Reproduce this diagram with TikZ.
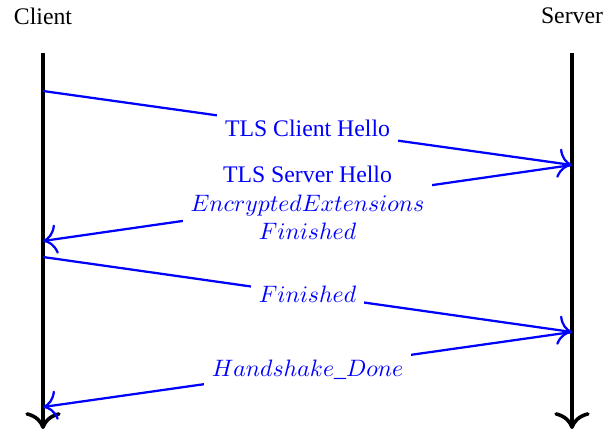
\documentclass[tikz,border=0pt]{standalone}
\usepackage{fontspec}
\setmainfont{Liberation Serif}
\usetikzlibrary{arrows.meta}
\begin{document}
\begin{tikzpicture}[
  x=0.4209pt, y=-0.4209pt,
  lifeline/.style={line width=1.5pt, -{To[scale=1.45]}},
  msg/.style={line width=0.95pt, blue, -{To[scale=1.6]}},
  msglabel/.style={midway, fill=white, text=blue, align=center},
  party/.style={inner sep=0pt}
]
\useasboundingbox (0,0) rectangle (604,431);

% participants
\node[party] (client) at (43,16) {Client};
\node[party] (server) at (572,16) {Server};

% lifelines
\coordinate (ctop) at (43,53);
\coordinate (cbot) at (43,429);
\coordinate (stop) at (572,53);
\coordinate (sbot) at (572,429);
\draw[lifeline] (ctop) -- (cbot);
\draw[lifeline] (stop) -- (sbot);

% message anchor points
\coordinate (c1) at (43,91);
\coordinate (s1) at (572,165);
\coordinate (c2) at (43,241);
\coordinate (c3) at (43,257);
\coordinate (s2) at (572,332);
\coordinate (c4) at (43,407);

% handshake messages
\draw[msg] (c1) -- node[msglabel] (m1) {TLS Client Hello} (s1);
\draw[msg] (s1) -- node[msglabel] (m2) {TLS Server Hello\\ $EncryptedExtensions$\\ $Finished$} (c2);
\draw[msg] (c3) -- node[msglabel] (m3) {$Finished$} (s2);
\draw[msg] (s2) -- node[msglabel] (m4) {$Handshake\_Done$} (c4);
\end{tikzpicture}
\end{document}
